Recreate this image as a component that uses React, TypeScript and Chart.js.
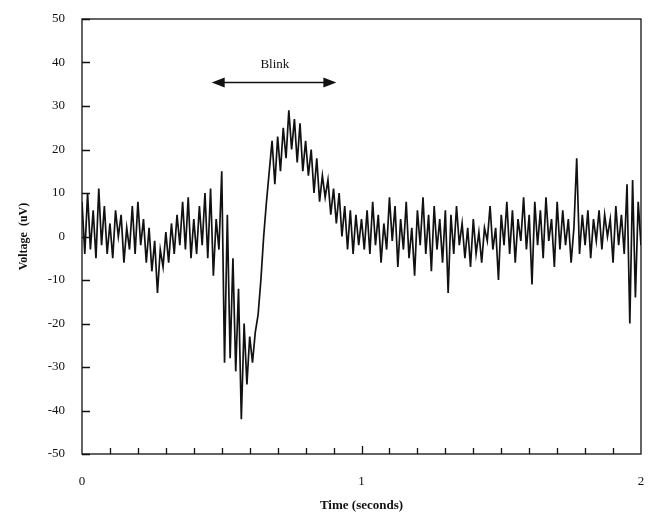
import React, { useEffect, useRef } from "react";
import { Chart, registerables } from "chart.js";

Chart.register(...registerables);

// Sampled EEG voltage (uV), one sample every 0.01 s from 0 to 2 s
const voltage: number[] = [
  8, -4, 10, -3, 6, -5, 11, -2, 7, -4,
  3, -5, 6, 0, 5, -6, 2, -3, 7, -4,
  8, -2, 4, -6, 2, -8, -1, -13, -3, -7,
  1, -6, 3, -4, 5, -2, 8, -3, 9, -5,
  4, -4, 7, -2, 10, -5, 11, -9, 4, -3,
  15, -29, 5, -28, -5, -31, -12, -42, -20, -34,
  -23, -29, -22, -18, -10, 0, 8, 15, 22, 12,
  23, 15, 25, 18, 29, 20, 27, 17, 26, 15,
  22, 14, 20, 10, 18, 8, 14, 9, 13, 5,
  11, 3, 10, 0, 7, -3, 6, -4, 5, -2,
  4, -3, 6, -4, 8, -2, 5, -6, 3, -3,
  9, -1, 7, -7, 4, -3, 8, -5, 2, -9,
  6, -2, 9, -4, 5, -8, 7, -3, 4, -6,
  6, -13, 5, -4, 7, -2, 3, -5, 2, -7,
  4, -4, 1, -6, 2, -1, 7, -3, 2, -10,
  5, -2, 8, -4, 6, -6, 4, -1, 9, -3,
  5, -11, 8, -2, 6, -5, 9, -1, 4, -7,
  8, -3, 6, -2, 4, -6, 2, 18, -4, 5,
  -2, 6, -5, 4, -1, 6, -3, 5, 0, 4,
  -6, 7, -2, 5, -4, 12, -20, 13, -14, 8,
  -2,
];
const sampleStep = 0.01; // seconds between samples

const xTickLabels: number[] = [0, 1, 2];
const yTickLabels: number[] = [-50, -40, -30, -20, -10, 0, 10, 20, 30, 40, 50];
const minorXTicks: number[] = [
  0.1, 0.2, 0.3, 0.4, 0.5, 0.6, 0.7, 0.8, 0.9, 1.0,
  1.1, 1.2, 1.3, 1.4, 1.5, 1.6, 1.7, 1.8, 1.9,
];

const blinkLabel = "Blink";
const blinkStart = 0.464;
const blinkEnd = 0.91;
const blinkArrowY = 35.4;
const blinkTextX = 0.69;
const blinkTextY = 39.5;

const SERIF = "'Liberation Serif', 'DejaVu Serif', serif";

const decorPlugin = {
  id: "decor",
  afterDraw(chart: any) {
    const { ctx, chartArea } = chart;
    const xs = chart.scales.x;
    const ys = chart.scales.y;
    ctx.save();
    ctx.strokeStyle = "#111";
    ctx.lineWidth = 1.3;
    // box border
    ctx.strokeRect(chartArea.left, chartArea.top, chartArea.right - chartArea.left, chartArea.bottom - chartArea.top);
    // inward y ticks
    ctx.beginPath();
    for (const v of yTickLabels) {
      const py = Math.round(ys.getPixelForValue(v)) + 0.5;
      ctx.moveTo(chartArea.left, py);
      ctx.lineTo(chartArea.left + 8, py);
    }
    // inward x ticks
    for (const v of minorXTicks) {
      const px = Math.round(xs.getPixelForValue(v)) + 0.5;
      ctx.moveTo(px, chartArea.bottom);
      ctx.lineTo(px, chartArea.bottom - (Math.abs(v - 1) < 1e-6 ? 8 : 6));
    }
    ctx.stroke();

    // blink arrow
    const x1 = xs.getPixelForValue(blinkStart);
    const x2 = xs.getPixelForValue(blinkEnd);
    const ay = ys.getPixelForValue(blinkArrowY);
    ctx.lineWidth = 1.6;
    ctx.beginPath();
    ctx.moveTo(x1 + 8, ay);
    ctx.lineTo(x2 - 8, ay);
    ctx.stroke();
    ctx.fillStyle = "#111";
    ctx.beginPath();
    ctx.moveTo(x1, ay);
    ctx.lineTo(x1 + 13, ay - 5);
    ctx.lineTo(x1 + 13, ay + 5);
    ctx.closePath();
    ctx.fill();
    ctx.beginPath();
    ctx.moveTo(x2, ay);
    ctx.lineTo(x2 - 13, ay - 5);
    ctx.lineTo(x2 - 13, ay + 5);
    ctx.closePath();
    ctx.fill();

    ctx.font = `13px ${SERIF}`;
    ctx.textAlign = "center";
    ctx.textBaseline = "middle";
    ctx.fillText(blinkLabel, xs.getPixelForValue(blinkTextX), ys.getPixelForValue(blinkTextY));
    ctx.restore();
  },
};

export default function App() {
  const canvasRef = useRef<HTMLCanvasElement | null>(null);

  useEffect(() => {
    if (!canvasRef.current) return;
    const points = voltage.map((v, i) => ({ x: i * sampleStep, y: v }));
    const chart = new Chart(canvasRef.current, {
      type: "line",
      data: {
        datasets: [
          {
            data: points,
            borderColor: "#111",
            borderWidth: 1.7,
            pointRadius: 0,
            tension: 0,
          },
        ],
      },
      options: {
        animation: false,
        responsive: false,
        maintainAspectRatio: false,
        layout: { padding: { left: 0, top: 19, right: 14, bottom: 0 } },
        plugins: {
          legend: { display: false },
          tooltip: { enabled: false },
        },
        scales: {
          x: {
            type: "linear",
            min: 0,
            max: 2,
            afterFit: (s: any) => {
              s.height = 64;
              s.paddingLeft = 0;
              s.paddingRight = 0;
            },
            grid: { display: false, drawTicks: false },
            border: { display: false },
            ticks: {
              stepSize: 1,
              padding: 20,
              color: "#111",
              font: { family: SERIF, size: 13 },
              maxRotation: 0,
              callback: (v: any) => (xTickLabels.includes(Number(v)) ? String(v) : ""),
            },
            title: {
              display: true,
              text: "Time (seconds)",
              color: "#111",
              font: { family: SERIF, size: 13, weight: "bold" },
              padding: { top: 5, bottom: 5 },
            },
          },
          y: {
            min: -50,
            max: 50,
            afterFit: (s: any) => {
              s.width = 82;
              s.paddingTop = 0;
              s.paddingBottom = 0;
            },
            grid: { display: false, drawTicks: false },
            border: { display: false },
            ticks: {
              stepSize: 10,
              padding: 17,
              color: "#111",
              font: { family: SERIF, size: 13 },
              callback: (v: any) => String(v),
            },
            title: {
              display: true,
              text: "Voltage  (uV)",
              color: "#111",
              font: { family: SERIF, size: 12, weight: "bold" },
              padding: { top: 17, bottom: 0 },
            },
          },
        },
      },
      plugins: [decorPlugin],
    });
    return () => chart.destroy();
  }, []);

  return (
    <div style={{ position: "fixed", left: 0, top: 0, width: 655, height: 518, background: "#fff" }}>
      <canvas ref={canvasRef} width={655} height={518} style={{ width: 655, height: 518 }} />
    </div>
  );
}
